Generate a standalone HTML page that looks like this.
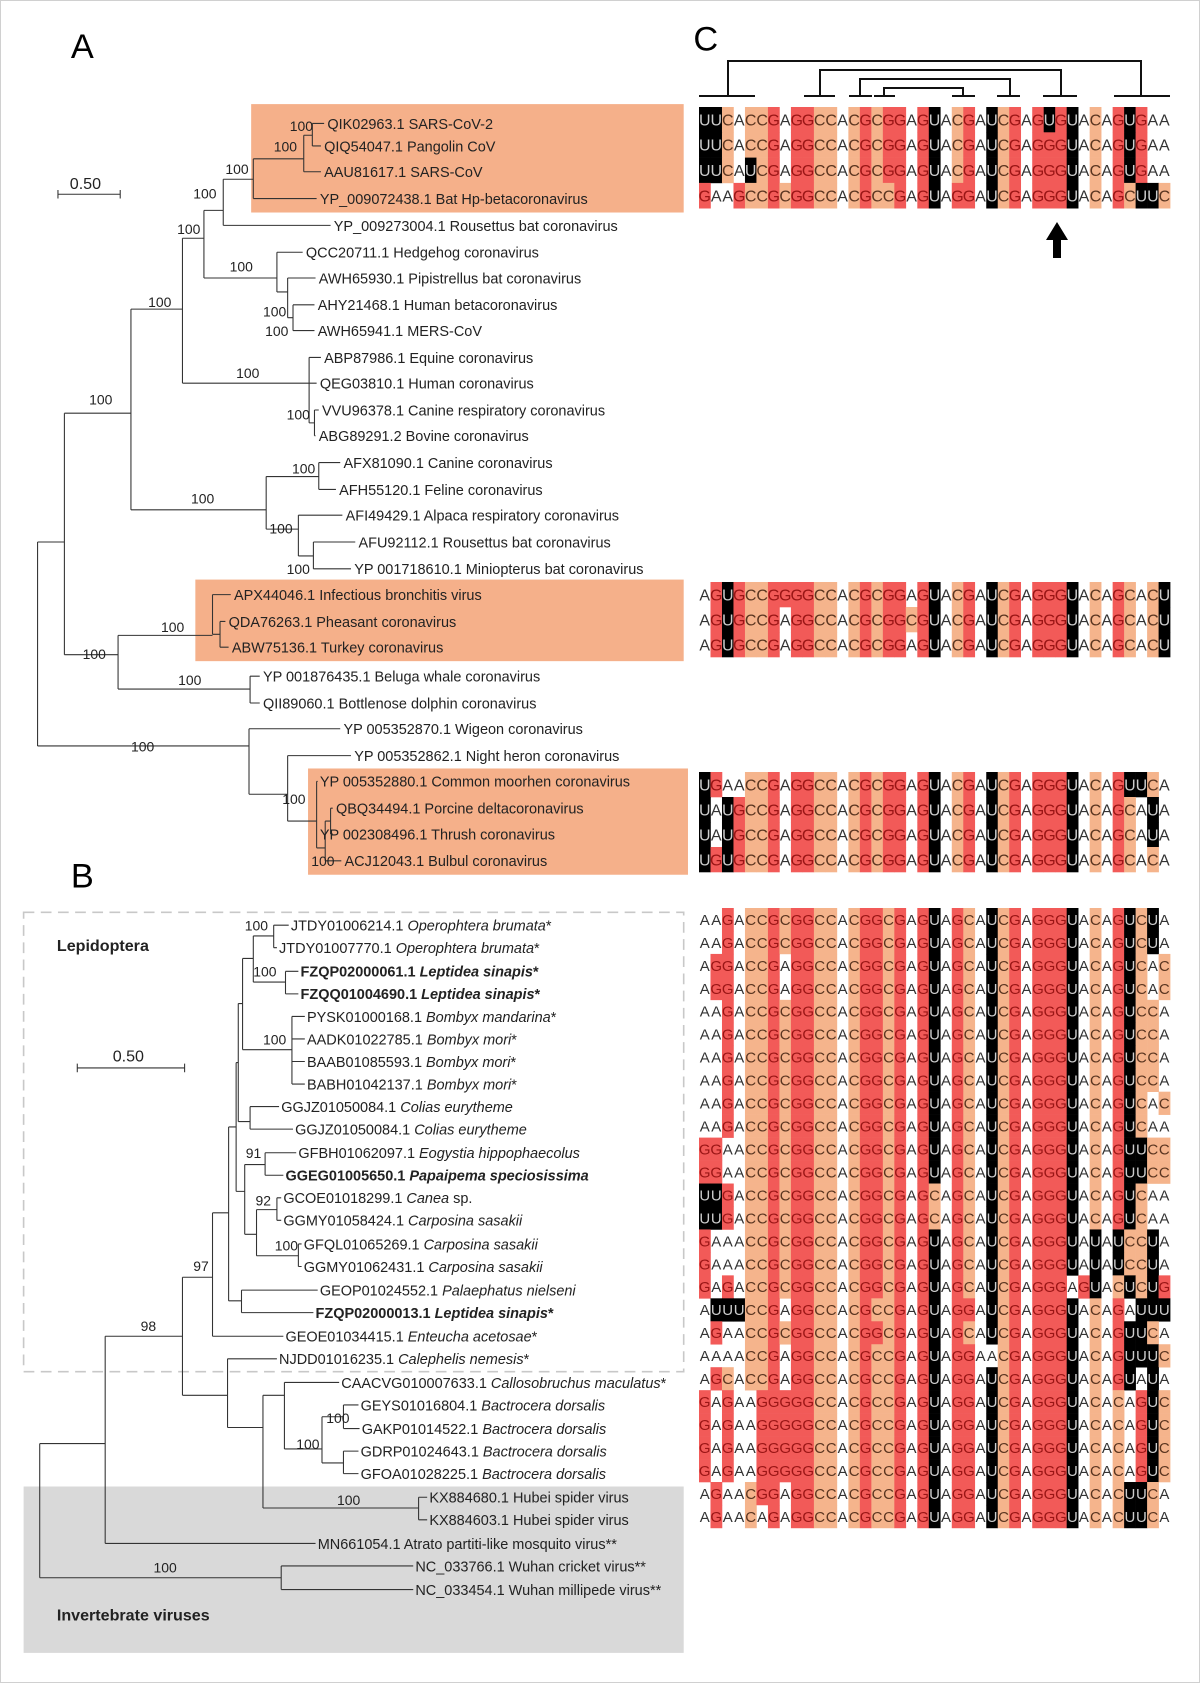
<!DOCTYPE html>
<html><head><meta charset="utf-8"><style>
html,body{margin:0;padding:0;background:#fff}
svg{display:block}
</style></head><body>
<svg id="s" xmlns="http://www.w3.org/2000/svg" width="1200" height="1683" viewBox="0 0 1200 1683" font-family="Liberation Sans, sans-serif">
<rect x="0.5" y="0.5" width="1199" height="1682" fill="#fff" stroke="#d0d0d0"/>
<g transform="scale(1.0733)">
<rect x="234" y="97" width="403" height="101" fill="#f5b08a"/>
<rect x="182" y="540" width="455" height="76" fill="#f5b08a"/>
<rect x="287" y="716" width="354" height="99" fill="#f5b08a"/>
<rect x="22" y="1385" width="615" height="155" fill="#d9d9d9"/>
<rect x="22" y="850" width="615" height="428" fill="none" stroke="#c8c8c8" stroke-width="1.5" stroke-dasharray="10,6"/>
<text x="66" y="54" font-size="32">A</text>
<text x="66" y="827" font-size="32">B</text>
<text x="646" y="47" font-size="32">C</text>
<g fill="none" stroke="#333" stroke-width="1">
<path d="M54 181H112M54 177V185M112 177V185M72 995H172M72 991V999M172 991V999"/>
<path d="M35 505V695M35 505H60M35 695H232M60 385V610M60 385H122M60 610H110M122 288V475M122 288H170M122 475H248M170 222V357M170 222H190M170 357H288M190 196V259M190 196H208M190 259H258M208 167V210M208 167H236M208 210H308M236 148V185M236 148H283M236 185H295M283 126V160M283 126H291M283 160H299M291 115V136M291 115H302M291 136H299M258 235V272M258 235H282M258 272H268M268 259V296M268 259H294M268 296H273M273 284V308M273 284H293M273 308H293M288 333V394M288 333H299M288 357H295M288 394H293M293 382V406M293 382H297M293 406H294M248 444V493M248 444H297M248 493H278M297 431V456M297 431H317M297 456H313M278 480V518M278 480H319M278 518H292M292 505V530M292 505H331M292 530H327M110 592V642M110 592H198M110 642H233M198 554V591M198 554H215M198 591H205M205 579V603M205 579H210M205 603H213M233 630V655M233 630H242M233 655H242M232 679V740M232 679H317M232 740H268M268 704V765M268 704H327M268 765H295M295 728V790M295 728H296M295 790H303M303 765V802M303 765H308M303 802H318M308 753V777M308 753H310M308 777H310"/>
<path d="M37 1345V1470M37 1345H98M37 1470H262M98 1245V1438M98 1245H170M98 1438H294M170 1190V1300M170 1190H198M170 1300H212M198 1130V1245M198 1130H213M198 1245H264M213 1050V1212M213 1050H220M213 1212H225M225 1202V1223M225 1202H296M225 1223H292M220 990V1110M220 990H222M220 1110H228M222 935V1045M222 935H226M222 1045H233M233 1031V1052M233 1031H260M233 1052H273M226 893V978M226 893H236M226 978H272M236 872V915M236 872H255M236 915H266M255 862V883M255 862H269M255 883H258M266 905V926M266 905H278M266 926H278M272 947V1010M272 947H284M272 968H284M272 989H284M272 1010H284M228 1085V1150M228 1085H247M228 1150H239M247 1074V1095M247 1074H276M247 1095H264M239 1127V1170M239 1127H258M239 1170H278M258 1116V1137M258 1116H262M258 1137H262M278 1159V1180M278 1159H281M278 1180H281M212 1266V1330M212 1266H258M212 1330H245M245 1300V1405M245 1300H265M245 1405H390M265 1288V1350M265 1288H316M265 1350H300M300 1320V1363M300 1320H320M300 1363H320M320 1309V1331M320 1309H334M320 1331H335M320 1352V1373M320 1352H334M320 1373H334M390 1395V1416M390 1395H398M390 1416H398M262 1459V1481M262 1459H385M262 1481H385"/>
</g>
<g font-size="15" fill="#222"><text x="65" y="176">0.50</text><text x="105" y="989">0.50</text></g>
<g font-size="13" fill="#222">
<text x="270" y="122">100</text><text x="255" y="141">100</text><text x="210" y="162">100</text><text x="180" y="185">100</text><text x="165" y="218">100</text><text x="214" y="253">100</text><text x="245" y="295">100</text><text x="247" y="313">100</text><text x="220" y="352">100</text><text x="267" y="391">100</text><text x="83" y="377">100</text><text x="138" y="286">100</text><text x="178" y="469">100</text><text x="272" y="441">100</text><text x="251" y="497">100</text><text x="267" y="535">100</text><text x="77" y="614">100</text><text x="150" y="589">100</text><text x="166" y="638">100</text><text x="122" y="700">100</text><text x="263" y="749">100</text><text x="290" y="807">100</text>
<text x="228" y="867">100</text><text x="236" y="910">100</text><text x="245" y="973">100</text><text x="229" y="1079">91</text><text x="238" y="1123">92</text><text x="256" y="1165">100</text><text x="180" y="1184">97</text><text x="131" y="1240">98</text><text x="304" y="1326">100</text><text x="276" y="1350">100</text><text x="314" y="1402">100</text><text x="143" y="1465">100</text>
</g>
<g font-size="13.5" fill="#222">
<text x="305" y="120">QIK02963.1 SARS-CoV-2</text>
<text x="302" y="141">QIQ54047.1 Pangolin CoV</text>
<text x="302" y="165">AAU81617.1 SARS-CoV</text>
<text x="298" y="190">YP_009072438.1 Bat Hp-betacoronavirus</text>
<text x="311" y="215">YP_009273004.1 Rousettus bat coronavirus</text>
<text x="285" y="240">QCC20711.1 Hedgehog coronavirus</text>
<text x="297" y="264">AWH65930.1 Pipistrellus bat coronavirus</text>
<text x="296" y="289">AHY21468.1 Human betacoronavirus</text>
<text x="296" y="313">AWH65941.1 MERS-CoV</text>
<text x="302" y="338">ABP87986.1 Equine coronavirus</text>
<text x="298" y="362">QEG03810.1 Human coronavirus</text>
<text x="300" y="387">VVU96378.1 Canine respiratory coronavirus</text>
<text x="297" y="411">ABG89291.2 Bovine coronavirus</text>
<text x="320" y="436">AFX81090.1 Canine coronavirus</text>
<text x="316" y="461">AFH55120.1 Feline coronavirus</text>
<text x="322" y="485">AFI49429.1 Alpaca respiratory coronavirus</text>
<text x="334" y="510">AFU92112.1 Rousettus bat coronavirus</text>
<text x="330" y="535">YP 001718610.1 Miniopterus bat coronavirus</text>
<text x="218" y="559">APX44046.1 Infectious bronchitis virus</text>
<text x="213" y="584">QDA76263.1 Pheasant coronavirus</text>
<text x="216" y="608">ABW75136.1 Turkey coronavirus</text>
<text x="245" y="635">YP 001876435.1 Beluga whale coronavirus</text>
<text x="245" y="660">QII89060.1 Bottlenose dolphin coronavirus</text>
<text x="320" y="684">YP 005352870.1 Wigeon coronavirus</text>
<text x="330" y="709">YP 005352862.1 Night heron coronavirus</text>
<text x="298" y="733">YP 005352880.1 Common moorhen coronavirus</text>
<text x="313" y="758">QBQ34494.1 Porcine deltacoronavirus</text>
<text x="298" y="782">YP 002308496.1 Thrush coronavirus</text>
<text x="321" y="807">ACJ12043.1 Bulbul coronavirus</text>
<text x="53" y="886" font-weight="bold" font-size="15">Lepidoptera</text>
<text x="53" y="1510" font-weight="bold" font-size="15">Invertebrate viruses</text>
<text x="271" y="867">JTDY01006214.1 <tspan font-style="italic">Operophtera brumata</tspan>*</text>
<text x="260" y="888">JTDY01007770.1 <tspan font-style="italic">Operophtera brumata</tspan>*</text>
<text x="280" y="910" font-weight="bold">FZQP02000061.1 <tspan font-style="italic">Leptidea sinapis</tspan>*</text>
<text x="280" y="931" font-weight="bold">FZQQ01004690.1 <tspan font-style="italic">Leptidea sinapis</tspan>*</text>
<text x="286" y="952">PYSK01000168.1 <tspan font-style="italic">Bombyx mandarina</tspan>*</text>
<text x="286" y="973">AADK01022785.1 <tspan font-style="italic">Bombyx mori</tspan>*</text>
<text x="286" y="994">BAAB01085593.1 <tspan font-style="italic">Bombyx mori</tspan>*</text>
<text x="286" y="1015">BABH01042137.1 <tspan font-style="italic">Bombyx mori</tspan>*</text>
<text x="262" y="1036">GGJZ01050084.1 <tspan font-style="italic">Colias eurytheme</tspan></text>
<text x="275" y="1057">GGJZ01050084.1 <tspan font-style="italic">Colias eurytheme</tspan></text>
<text x="278" y="1079">GFBH01062097.1 <tspan font-style="italic">Eogystia hippophaecolus</tspan></text>
<text x="266" y="1100" font-weight="bold">GGEG01005650.1 <tspan font-style="italic">Papaipema speciosissima</tspan></text>
<text x="264" y="1121">GCOE01018299.1 <tspan font-style="italic">Canea</tspan> sp.</text>
<text x="264" y="1142">GGMY01058424.1 <tspan font-style="italic">Carposina sasakii</tspan></text>
<text x="283" y="1164">GFQL01065269.1 <tspan font-style="italic">Carposina sasakii</tspan></text>
<text x="283" y="1185">GGMY01062431.1 <tspan font-style="italic">Carposina sasakii</tspan></text>
<text x="298" y="1207">GEOP01024552.1 <tspan font-style="italic">Palaephatus nielseni</tspan></text>
<text x="294" y="1228" font-weight="bold">FZQP02000013.1 <tspan font-style="italic">Leptidea sinapis</tspan>*</text>
<text x="266" y="1250">GEOE01034415.1 <tspan font-style="italic">Enteucha acetosae</tspan>*</text>
<text x="260" y="1271">NJDD01016235.1 <tspan font-style="italic">Calephelis nemesis</tspan>*</text>
<text x="318" y="1293">CAACVG010007633.1 <tspan font-style="italic">Callosobruchus maculatus</tspan>*</text>
<text x="336" y="1314">GEYS01016804.1 <tspan font-style="italic">Bactrocera dorsalis</tspan></text>
<text x="337" y="1336">GAKP01014522.1 <tspan font-style="italic">Bactrocera dorsalis</tspan></text>
<text x="336" y="1357">GDRP01024643.1 <tspan font-style="italic">Bactrocera dorsalis</tspan></text>
<text x="336" y="1378">GFOA01028225.1 <tspan font-style="italic">Bactrocera dorsalis</tspan></text>
<text x="400" y="1400">KX884680.1 Hubei spider virus</text>
<text x="400" y="1421">KX884603.1 Hubei spider virus</text>
<text x="296" y="1443">MN661054.1 Atrato partiti-like mosquito virus**</text>
<text x="387" y="1464">NC_033766.1 Wuhan cricket virus**</text>
<text x="387" y="1486">NC_033454.1 Wuhan millipede virus**</text>
</g>
</g>
<g fill="none" stroke="#111" stroke-width="2">
<path d="M699 96H755M728 96V61H1141V96M1114 96H1170M804 96H835M820 96V70H1061V96M1043 96H1077M849 96H872M860 96V79H1010V96M997 96H1020M874 96H895M884 96V88H963V96M952 96H975"/>
</g>
<path d="M1057 222L1046 240H1053V258H1061V240H1068Z" fill="#000"/>
<g id="seq"></g>
</svg>
<script>
var groups=[
[107,25.3,16,["UUCACCGAGGCCACGCGGAGUACGAUCGAGUGUACAGUGAA","UUCACCGAGGCCACGCGGAGUACGAUCGAGGGUACAGUGAA","UUCAUCGAGGCCACGCGGAGUACGAUCGAGGGUACAGUGAA","GAAGCCGCGGCCACGCCGAGUAGGAUCGAGGGUACAGCUUC"]],
[582,25,16,["AGUGCCGGGGCCACGCGGAGUACGAUCGAGGGUACAGCACU","AGUGCCGAGGCCACGCGGCGUACGAUCGAGGGUACAGCACU","AGUGCCGAGGCCACGCGGAGUACGAUCGAGGGUACAGCACU"]],
[772,25,16,["UGAACCGAGGCCACGCGGAGUACGAUCGAGGGUACAGUUCA","UAUGCCGAGGCCACGCGGAGUACGAUCGAGGGUACAGCAUA","UAUGCCGAGGCCACGCGGAGUACGAUCGAGGGUACAGCAUA","UGUGCCGAGGCCACGCGGAGUACGAUCGAGGGUACAGCACA"]],
[908,22.96,15,["AAGACCGCGGCCACGGCGAGUAGCAUCGAGGGUACAGUCUA","AAGACCGCGGCCACGGCGAGUAGCAUCGAGGGUACAGUCUA","AGGACCGAGGCCACGGCGAGUAGCAUCGAGGGUACAGUCAC","AGGACCGAGGCCACGGCGAGUAGCAUCGAGGGUACAGUCAC","AAGACCGCGGCCACGGCGAGUAGCAUCGAGGGUACAGUCCA","AAGACCGCGGCCACGGCGAGUAGCAUCGAGGGUACAGUCCA","AAGACCGCGGCCACGGCGAGUAGCAUCGAGGGUACAGUCCA","AAGACCGCGGCCACGGCGAGUAGCAUCGAGGGUACAGUCCA","AAGACCGCGGCCACGGCGAGUAGCAUCGAGGGUACAGUCAC","AAGACCGCGGCCACGGCGAGUAGCAUCGAGGGUACAGUCAA","GGAACCGCGGCCACGGCGAGUAGCAUCGAGGGUACAGUUCC","GGAACCGCGGCCACGGCGAGUAGCAUCGAGGGUACAGUUCC","UUGACCGCGGCCACGGCGAGCAGCAUCGAGGGUACAGUCAA","UUGACCGCGGCCACGGCGAGCAGCAUCGAGGGUACAGUCAA","GAAACCGCGGCCACGGCGAGUAGCAUCGAGGGUAUAUCCUA","GAAACCGCGGCCACGGCGAGUAGCAUCGAGGGUAUAUCCUA","GAGACCGCGGCCACGGCGAGUAGCAUCGAGGGAGUACUCUG","AUUUCCGAGGCCACGCCGAGUAGGAUCGAGGGUACAGAUUU","AGAACCGCGGCCACGGCGAGUAGCAUCGAGGGUACAGUUCA","AAAACCGAGGCCACGCCGAGUAGGAACGAGGGUACAGUUUC","AGCACCGAGGCCACGCCGAGUAGGAUCGAGGGUACAGUAUA","GAGAAGGGGGCCACGCCGAGUAGGAUCGAGGGUACACAGUC","GAGAAGGGGGCCACGCCGAGUAGGAUCGAGGGUACACAGUC","GAGAAGGGGGCCACGCCGAGUAGGAUCGAGGGUACACAGUC","GAGAAGGGGGCCACGCCGAGUAGGAUCGAGGGUACACAGUC","AGAACGGAGGCCACGCCGAGUAGGAUCGAGGGUACACUUCA","AGAACAGAGGCCACGCCGAGUAGGAUCGAGGGUACACUUCA"]]];
var bg={G:"#f25a58",C:"#f5b48c",A:"#fff",U:"#000"},fg={G:"#9a1515",C:"#5a3520",A:"#333",U:"#ccc"};
var ns="http://www.w3.org/2000/svg",g=document.getElementById("seq"),x0=699,w=11.49;
groups.forEach(function(gr){var top=gr[0],h=gr[1],fs=gr[2];gr[3].forEach(function(s,r){var y=top+r*h;for(var i=0;i<s.length;i++){var c=s[i];
if(c!="A"){var re=document.createElementNS(ns,"rect");re.setAttribute("x",x0+i*w);re.setAttribute("y",y);re.setAttribute("width",w+0.3);re.setAttribute("height",h+0.3);re.setAttribute("fill",bg[c]);g.appendChild(re);}
var t=document.createElementNS(ns,"text");t.setAttribute("x",x0+i*w+w/2);t.setAttribute("y",y+h/2+fs*0.36);t.setAttribute("text-anchor","middle");t.setAttribute("font-size",fs);t.setAttribute("fill",fg[c]);t.textContent=c;g.appendChild(t);}});});
</script>
</body></html>
